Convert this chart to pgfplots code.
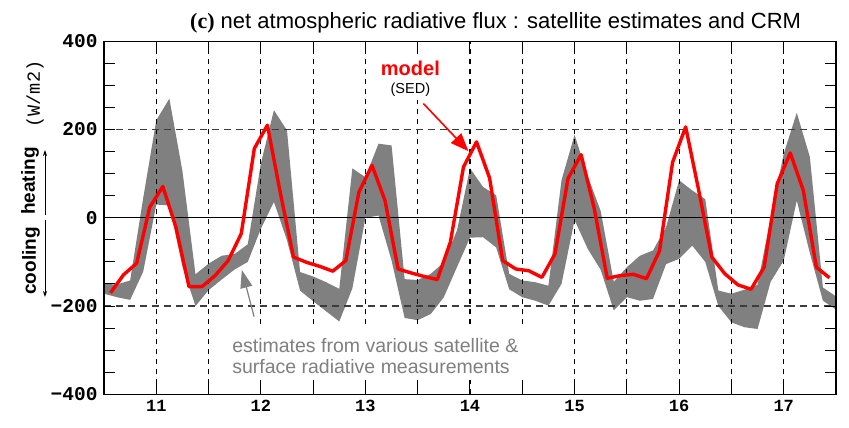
\documentclass[border=0pt]{standalone}
\usepackage{fontspec}
\setmainfont{Liberation Sans}
\newfontfamily\serifbf{Liberation Serif}
\newfontfamily\tickfont{Liberation Mono}
\usepackage{pgfplots}
\usepackage{pgfplotstable}
\pgfplotsset{compat=1.18}
\usepgfplotslibrary{fillbetween}
\usetikzlibrary{arrows.meta}

\definecolor{bandgray}{RGB}{128,128,128}
\definecolor{textgray}{RGB}{128,128,128}
\definecolor{griddark}{RGB}{60,60,60}

% satellite / surface estimates: upper and lower envelope, 3-hourly
\pgfplotstableread{
t up lo
10.500 -150 -172
10.625 -151 -180
10.750 -142 -186
10.875 45 -122
11.000 221 30
11.125 270 28
11.250 106 -110
11.375 -128 -200
11.500 -104 -164
11.625 -86 -140
11.750 -82 -117
11.875 -60 -100
12.000 123 -25
12.125 244 36
12.250 198 -51
12.375 -123 -165
12.500 -133 -189
12.625 -146 -212
12.750 -161 -235
12.875 112 -160
13.000 92 0
13.125 168 5
13.250 164 -97
13.375 -139 -227
13.500 -141 -232
13.625 -127 -218
13.750 -101 -180
13.875 -29 -112
14.000 112 -45
14.125 70 -44
14.250 51 -67
14.375 -127 -162
14.500 -142 -180
14.625 -146 -188
14.750 -154 -199
14.875 85 -150
15.000 188 -5
15.125 95 -70
15.250 15 -118
15.375 -145 -210
15.500 -112 -180
15.625 -86 -188
15.750 -74 -184
15.875 -21 -105
16.000 85 -93
16.125 62 -63
16.250 42 -100
16.375 -165 -200
16.500 -172 -237
16.625 -163 -248
16.750 -152 -252
16.875 0 -145
17.000 145 -97
17.125 238 39
17.250 138 -80
17.375 -158 -188
17.500 -178 -208
}\satband

% CRM (SED) net atmospheric radiative flux
\pgfplotstableread{
t v
10.5625 -170
10.6875 -129
10.8125 -103
10.9375 24
11.0625 71
11.1875 -21
11.3125 -156
11.4375 -156
11.5625 -131
11.6875 -97
11.8125 -36
11.9375 157
12.0625 210
12.1875 55
12.3125 -89
12.4375 -101
12.5625 -110
12.6875 -121
12.8125 -97
12.9375 58
13.0625 119
13.1875 39
13.3125 -116
13.4375 -125
13.5625 -133
13.6875 -140
13.8125 -55
13.9375 115
14.0625 172
14.1875 90
14.3125 -97
14.4375 -116
14.5625 -120
14.6875 -135
14.8125 -82
14.9375 89
15.0625 143
15.1875 22
15.3125 -137
15.4375 -131
15.5625 -128
15.6875 -138
15.8125 -75
15.9375 126
16.0625 206
16.1875 62
16.3125 -89
16.4375 -127
16.5625 -152
16.6875 -162
16.8125 -112
16.9375 77
17.0625 147
17.1875 62
17.3125 -112
17.4375 -136
}\modelsed

\pgfplotsset{
  layers/bandbelowgrid/.define layer set={
    axis background,pre main,axis grid,axis ticks,axis lines,
    axis tick labels,main,axis descriptions,axis foreground}{},
}

\begin{document}
\begin{tikzpicture}
\begin{axis}[
  set layers=bandbelowgrid,
  at={(0pt,0pt)}, anchor=south west,
  scale only axis, width=732pt, height=353pt,
  xmin=10.5, xmax=17.5, ymin=-400, ymax=400,
  xtick={11,12,13,14,15,16,17},
  xticklabels={11,12,13,14,15,16,17},
  minor xtick={11.5,12.5,13.5,14.5,15.5,16.5},
  ytick={-400,-200,0,200,400},
  yticklabels={−400,−200,0,200,400},
  minor ytick={-350,-300,-250,-150,-100,-50,50,100,150,250,300,350},
  tick align=inside,
  major tick length=11pt, minor tick length=11pt,
  every tick/.style={black, line width=1pt},
  xmajorgrids, xminorgrids, ymajorgrids,
  x grid style={black, line width=1.1pt, dash pattern=on 5pt off 5pt},
  y grid style={griddark, line width=1.1pt, dash pattern=on 7pt off 5pt},
  axis line style={line width=1.4pt},
  xticklabel style={font=\tickfont\bfseries\fontsize{17}{20}\selectfont, yshift=-2pt},
  yticklabel style={font=\tickfont\bfseries\fontsize{19.5}{22}\selectfont, xshift=-3pt},
]
  \addplot[name path=bandup, draw=none, forget plot] table[x=t, y=up] {\satband};
  \addplot[name path=bandlo, draw=none, forget plot] table[x=t, y=lo] {\satband};
  \addplot[bandgray, draw=none] fill between[of=bandup and bandlo];

  \draw[black, line width=1pt] (axis cs:10.5,0) -- (axis cs:17.5,0);

  \addplot[red, line width=3.4pt, line join=round, no marks] table[x=t, y=v] {\modelsed};

  % model label on a white patch, with arrow
  \fill[white] (axis cs:13.09,266) rectangle (axis cs:13.77,369);
  \node[red, font=\bfseries\fontsize{20}{24}\selectfont] at (axis cs:13.43,339) {model};
  \node[black, font=\fontsize{14.5}{17}\selectfont] at (axis cs:13.43,291) {(SED)};
  \draw[red, line width=1.6pt, -{Triangle[length=18pt,width=14pt]}]
    (axis cs:13.554,259) -- (axis cs:13.985,151);

  % estimates label on a white patch, with arrow
  \draw[textgray, line width=1.2pt, -{Triangle[length=18pt,width=12pt]}]
    (axis cs:11.935,-224) -- (axis cs:11.818,-118);
  \fill[white] (axis cs:11.69,-250) rectangle (axis cs:14.58,-368);
  \node[textgray, anchor=west, font=\fontsize{19.5}{23}\selectfont, inner sep=0pt]
    at (axis cs:11.725,-289) {estimates from various satellite \&};
  \node[textgray, anchor=west, font=\fontsize{19.5}{23}\selectfont, inner sep=0pt]
    at (axis cs:11.725,-338) {surface radiative measurements};
\end{axis}

% title
\node[anchor=base west, font=\fontsize{22}{26}\selectfont, inner sep=0pt] at (86pt,366pt)
  {{\serifbf\bfseries (c)} net atmospheric radiative flux : satellite estimates and CRM};

% vertical axis description
\node[rotate=90, font=\tickfont\fontsize{18.5}{22}\selectfont, inner sep=0pt] at (-69pt,300.3pt) {(W/m2)};
\node[rotate=90, font=\bfseries\fontsize{19}{22}\selectfont, inner sep=0pt] at (-74pt,213.3pt) {heating};
\node[rotate=90, font=\bfseries\fontsize{19}{22}\selectfont, inner sep=0pt] at (-73pt,133.3pt) {cooling};
\draw[black, line width=0.8pt, -{Stealth[length=6pt,width=4pt]}] (-59pt,179.3pt) -- (-59pt,244.3pt);
\draw[black, line width=0.8pt, -{Stealth[length=6pt,width=4pt]}] (-59pt,174.3pt) -- (-59pt,97.3pt);

\pgfresetboundingbox
\path (-104pt,-33.7pt) rectangle (745pt,394.3pt);
\end{tikzpicture}
\end{document}
